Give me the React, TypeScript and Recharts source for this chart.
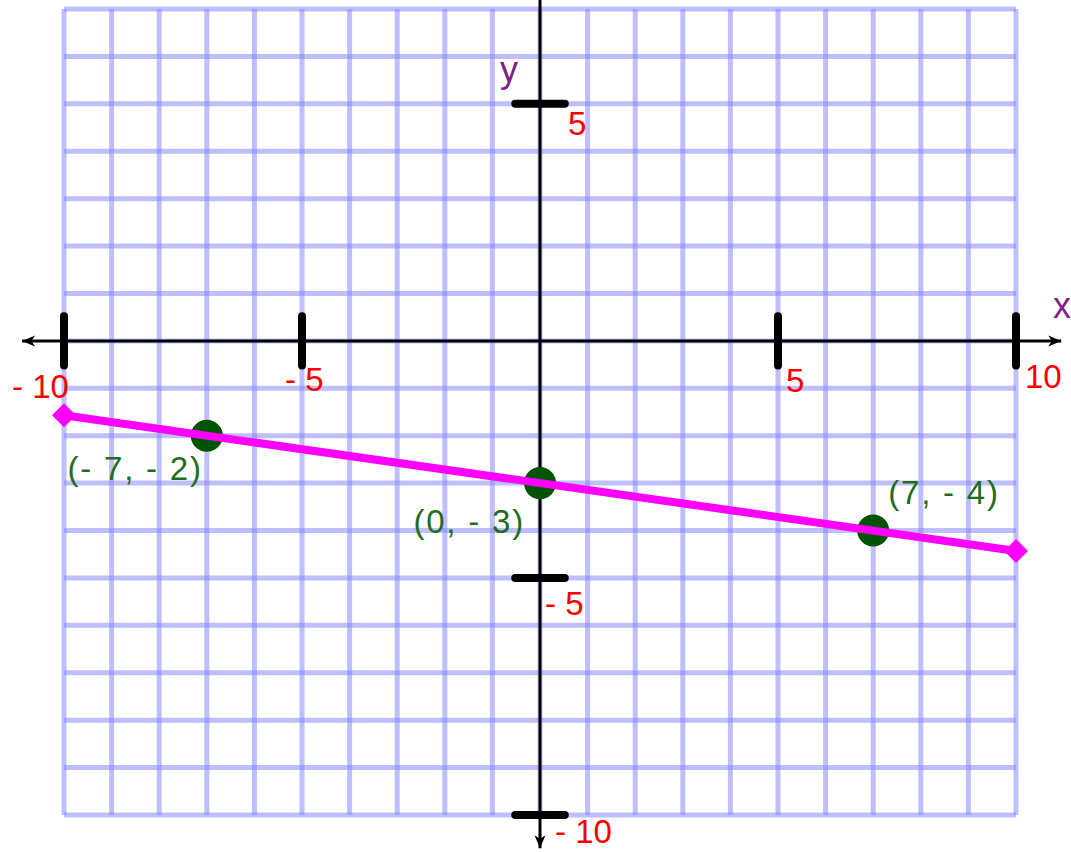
import React from 'react';
import {
  ComposedChart,
  XAxis,
  YAxis,
  CartesianGrid,
  Scatter,
  Line,
  ReferenceLine,
} from 'recharts';

// ---- data ----
const xGridTicks = [-10, -9, -8, -7, -6, -5, -4, -3, -2, -1, 0, 1, 2, 3, 4, 5, 6, 7, 8, 9, 10];
const yGridTicks = [-10, -9, -8, -7, -6, -5, -4, -3, -2, -1, 0, 1, 2, 3, 4, 5, 6, 7];
const xAxisTicks = [-10, -5, 5, 10];
const xTickLabels = ['- 10', '- 5', '5', '10'];
const yAxisTicks = [5, -5, -10];
const yTickLabels = ['5', '- 5', '- 10'];
const pointX = [-7, 0, 7];
const pointY = [-2, -3, -4];
const pointLabels = ['(- 7, - 2)', '(0, - 3)', '(7, - 4)'];
const lineX = [-10, 10];
const lineY = [-1.57, -4.43];
const xAxisExtent = [-10.88, 10.95];
const yAxisExtent = [7.3, -10.7];
const tickHalf = 0.52;

const scatterData = pointX.map((x, i) => ({ x, y: pointY[i], label: pointLabels[i], i }));
const lineData = lineX.map((x, i) => ({ x, y: lineY[i] }));

// ---- styles ----
const FONT = '"Liberation Sans", Arial, Helvetica, sans-serif';
const RED = '#ff0000';
const GREEN_TEXT = '#1e6e1e';
const GREEN_DOT = '#005300';
const PURPLE = '#7e1f8e';
const MAGENTA = '#ff00ff';
const GRID = 'rgba(132,132,255,0.52)';

// label placement (pixels, relative to tick / point)
const xLabelPos = [
  { dx: -52, dy: 57 },
  { dx: -17, dy: 50 },
  { dx: 8, dy: 51 },
  { dx: 9, dy: 47 },
];
const yLabelPos = [
  { dx: 28, dy: 31 },
  { dx: 5, dy: 37 },
  { dx: 15, dy: 28 },
];
const pointLabelPos = [
  { dx: -4, dy: 44, anchor: 'end' },
  { dx: -15, dy: 50, anchor: 'end' },
  { dx: 15, dy: -27, anchor: 'start' },
];

function arrowHead(tx: number, ty: number, ux: number, uy: number) {
  const L = 13;
  const W = 5.5;
  const px = -uy;
  const py = ux;
  const bx = tx - L * ux;
  const by = ty - L * uy;
  const nx = tx - 0.72 * L * ux;
  const ny = ty - 0.72 * L * uy;
  return `${tx},${ty} ${bx + W * px},${by + W * py} ${nx},${ny} ${bx - W * px},${by - W * py}`;
}

function axisShape(start: boolean, end: boolean) {
  return (p: any) => {
    const { x1, y1, x2, y2 } = p;
    const len = Math.hypot(x2 - x1, y2 - y1) || 1;
    const ux = (x2 - x1) / len;
    const uy = (y2 - y1) / len;
    return (
      <g>
        <line x1={x1} y1={y1} x2={x2} y2={y2} stroke="#000" strokeWidth={3} />
        {start && <polygon points={arrowHead(x1, y1, -ux, -uy)} fill="#000" />}
        {end && <polygon points={arrowHead(x2, y2, ux, uy)} fill="#000" />}
      </g>
    );
  };
}

function tickShape(text: string, dx: number, dy: number) {
  return (p: any) => {
    const { x1, y1, x2, y2 } = p;
    const cx = (x1 + x2) / 2;
    const cy = (y1 + y2) / 2;
    return (
      <g>
        <line x1={x1} y1={y1} x2={x2} y2={y2} stroke="#000" strokeWidth={8} strokeLinecap="round" />
        <text x={cx + dx} y={cy + dy} fill={RED} fontSize={33} fontFamily={FONT} textAnchor="start">
          {text}
        </text>
      </g>
    );
  };
}

const PointShape = (p: any) => {
  const { cx, cy, payload } = p;
  const pos = pointLabelPos[payload.i];
  return (
    <g>
      <circle cx={cx} cy={cy} r={16} fill={GREEN_DOT} />
      <text
        x={cx + pos.dx}
        y={cy + pos.dy}
        fill={GREEN_TEXT}
        fontSize={33}
        fontFamily={FONT}
        textAnchor={pos.anchor as any}
        letterSpacing={1.8}
      >
        {payload.label}
      </text>
    </g>
  );
};

const Diamond = (p: any) => {
  const { cx, cy, index } = p;
  const s = 12;
  return (
    <polygon
      key={`d-${index}`}
      points={`${cx},${cy - s} ${cx + s},${cy} ${cx},${cy + s} ${cx - s},${cy}`}
      fill={MAGENTA}
    />
  );
};

export default function App() {
  return (
    <div style={{ position: 'absolute', left: 0, top: 0, background: '#fff' }}>
      <ComposedChart
        width={1071}
        height={852}
        margin={{ top: 9, right: 55, bottom: 37, left: 64 }}
      >
        <XAxis type="number" dataKey="x" domain={[-10, 10]} ticks={xGridTicks} hide />
        <YAxis type="number" dataKey="y" domain={[-10, 7]} ticks={yGridTicks} hide />
        <CartesianGrid stroke={GRID} strokeWidth={5} />
        <ReferenceLine
          ifOverflow="visible"
          segment={[{ x: xAxisExtent[0], y: 0 }, { x: xAxisExtent[1], y: 0 }]}
          shape={axisShape(true, true)}
        />
        <ReferenceLine
          ifOverflow="visible"
          segment={[{ x: 0, y: yAxisExtent[0] }, { x: 0, y: yAxisExtent[1] }]}
          shape={axisShape(false, true)}
        />
        {xAxisTicks.map((t, i) => (
          <ReferenceLine
            key={`xt-${t}`}
            ifOverflow="visible"
            segment={[{ x: t, y: tickHalf }, { x: t, y: -tickHalf }]}
            shape={tickShape(xTickLabels[i], xLabelPos[i].dx, xLabelPos[i].dy)}
          />
        ))}
        {yAxisTicks.map((t, i) => (
          <ReferenceLine
            key={`yt-${t}`}
            ifOverflow="visible"
            segment={[{ x: -tickHalf, y: t }, { x: tickHalf, y: t }]}
            shape={tickShape(yTickLabels[i], yLabelPos[i].dx, yLabelPos[i].dy)}
          />
        ))}
        <ReferenceLine
          ifOverflow="visible"
          segment={[{ x: 10, y: 0 }, { x: 10, y: 0 }]}
          shape={(p: any) => (
            <text x={p.x1 + 37} y={p.y1 - 23} fill={PURPLE} fontSize={36} fontFamily={FONT}>
              x
            </text>
          )}
        />
        <ReferenceLine
          ifOverflow="visible"
          segment={[{ x: 0, y: 5 }, { x: 0, y: 5 }]}
          shape={(p: any) => (
            <text x={p.x1 - 40} y={p.y1 - 22} fill={PURPLE} fontSize={36} fontFamily={FONT}>
              y
            </text>
          )}
        />
        <Scatter
          data={scatterData}
          dataKey="y"
          shape={PointShape}
          isAnimationActive={false}
          zIndex={500}
        />
        <Line
          data={lineData}
          dataKey="y"
          type="linear"
          stroke={MAGENTA}
          strokeWidth={8}
          dot={Diamond}
          activeDot={false}
          isAnimationActive={false}
          zIndex={700}
        />
      </ComposedChart>
    </div>
  );
}
